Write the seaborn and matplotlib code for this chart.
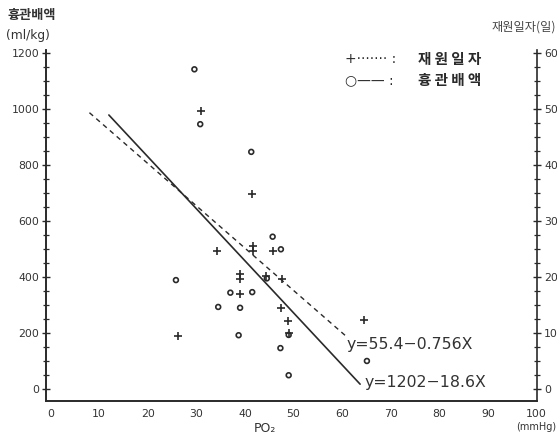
import numpy as np
import pandas as pd
import matplotlib
matplotlib.use("Agg")
import matplotlib.pyplot as plt
import seaborn as sns
from matplotlib.ticker import MultipleLocator

# ---- data ----
# chest tube drainage (ml/kg), open circles, left axis
drain_po2 = [29.6, 30.8, 41.3, 45.7, 47.4, 25.8, 37.0, 41.5, 34.5, 39.0, 49.0, 38.7, 47.3, 49.0, 65.1, 44.5]
drain_val = [1142, 946, 847, 544, 499, 389, 344, 346, 293, 290, 193, 192, 146, 49, 100, 395]
# hospital days, plus markers, right axis
days_po2 = [31.0, 41.5, 34.3, 41.6, 41.6, 45.7, 38.9, 38.9, 44.4, 47.7, 39.0, 47.4, 48.9, 49.0, 26.2, 64.4]
days_val = [49.7, 34.8, 24.7, 25.6, 24.7, 24.7, 19.6, 20.6, 20.2, 19.7, 17.0, 14.5, 12.1, 10.0, 9.5, 12.3]
# regression lines (printed equations) and their drawn x-extent
drain_fit_x = [12.0, 63.7]
drain_fit_a, drain_fit_b = 1202, -18.6
days_fit_x = [8.0, 61.0]
days_fit_a, days_fit_b = 55.4, -0.756

x_ticks = list(range(0, 101, 10))
left_ticks = list(range(0, 1201, 200))
right_ticks = list(range(0, 61, 10))

W, H = 557, 433
def fx(px): return px / W
def fy(py): return 1 - py / H

sns.set_theme(style="white")
plt.rcParams['font.family'] = ['DejaVu Sans', 'Noto Sans CJK KR']
ink = "#2a2a2a"

fig = plt.figure(figsize=(W / 100, H / 100), dpi=100)
ax = fig.add_axes([fx(45.7), fy(401), fx(536.5) - fx(45.7), fy(50) - fy(401)])
ax2 = ax.twinx()

dfd = pd.DataFrame({"po2": drain_po2, "val": drain_val})
dfh = pd.DataFrame({"po2": days_po2, "val": days_val})
sns.scatterplot(data=dfd, x="po2", y="val", ax=ax, marker="o", s=12,
                facecolor="none", edgecolor=ink, linewidth=1.2, zorder=3)
sns.scatterplot(data=dfh, x="po2", y="val", ax=ax2, marker="+", s=40,
                color=ink, linewidth=1.2, zorder=3)

fd = pd.DataFrame({"x": drain_fit_x})
fd["y"] = drain_fit_a + drain_fit_b * fd["x"]
fh = pd.DataFrame({"x": days_fit_x})
fh["y"] = days_fit_a + days_fit_b * fh["x"]
sns.lineplot(data=fd, x="x", y="y", ax=ax, color=ink, linewidth=1.2)
sns.lineplot(data=fh, x="x", y="y", ax=ax2, color=ink, linewidth=1.0,
             linestyle=(0, (3.5, 3)))

ax.set_xlim(-1, 100)
ax.set_ylim(-43, 1211)
ax2.set_ylim(-43 / 20, 1211 / 20)

ax.set_xticks(x_ticks)
ax.set_yticks(left_ticks)
ax.yaxis.set_minor_locator(MultipleLocator(50))
ax2.set_yticks(right_ticks)
ax2.yaxis.set_minor_locator(MultipleLocator(2.5))
ax.set_xlabel("")
ax.set_ylabel("")
ax2.set_ylabel("")

for a in (ax, ax2):
    for s in a.spines.values():
        s.set_color(ink)
        s.set_linewidth(1.2)
    a.spines["top"].set_visible(False)
    a.grid(False)
    a.set_facecolor("none")
ax.spines["right"].set_visible(False)

ax.tick_params(axis="x", direction="inout", length=6, width=1.0, color=ink,
               labelsize=7.8, labelcolor="#333", pad=3)
ax.tick_params(axis="y", which="major", direction="inout", length=6, width=1.0,
               color=ink, labelsize=7.8, labelcolor="#333", pad=1.5, left=True)
ax.tick_params(axis="y", which="minor", direction="inout", length=5, width=0.9,
               color=ink, left=True)
ax2.tick_params(axis="y", which="major", direction="inout", length=6, width=1.0,
                color=ink, labelsize=7.8, labelcolor="#333", pad=2.5, right=True)
ax2.tick_params(axis="y", which="minor", direction="inout", length=5, width=0.9,
                color=ink, right=True)

ax.set_xticklabels([str(t) for t in x_ticks])

ko = ['Noto Sans CJK KR', 'DejaVu Sans']
fig.text(fx(7), fy(15), "흉관배액", family=ko, fontsize=9.5, color="#333",
         va="center", ha="left", weight="bold")
fig.text(fx(6), fy(36), "(ml/kg)", fontsize=8.8, color="#333", va="center", ha="left")
fig.text(fx(556), fy(27), "재원일자(일)", family=ko, fontsize=8.8, color="#444",
         va="center", ha="right")
fig.text(fx(265), fy(428), "PO₂", fontsize=9, color="#333", va="center", ha="center")
fig.text(fx(556), fy(427), "(mmHg)", fontsize=7, color="#333", va="center", ha="right")

# legend (drawn as text like the original)
fig.text(fx(345), fy(59), "+······· :", fontsize=10, color=ink, va="center", ha="left")
fig.text(fx(418), fy(59), "재 원 일 자", family=ko, fontsize=10.5, color=ink,
         va="center", ha="left", weight="bold")
fig.text(fx(345), fy(80), "○—— :", family=['DejaVu Sans'], fontsize=10, color=ink,
         va="center", ha="left")
fig.text(fx(418), fy(80), "흉 관 배 액", family=ko, fontsize=10.5, color=ink,
         va="center", ha="left", weight="bold")

# equation labels
fig.text(fx(347), fy(344), "y=55.4−0.756X", fontsize=11.3, color="#333",
         va="center", ha="left")
fig.text(fx(365), fy(383), "y=1202−18.6X", fontsize=11.3, color="#333",
         va="center", ha="left")

fig.savefig("out.png", dpi=100)
